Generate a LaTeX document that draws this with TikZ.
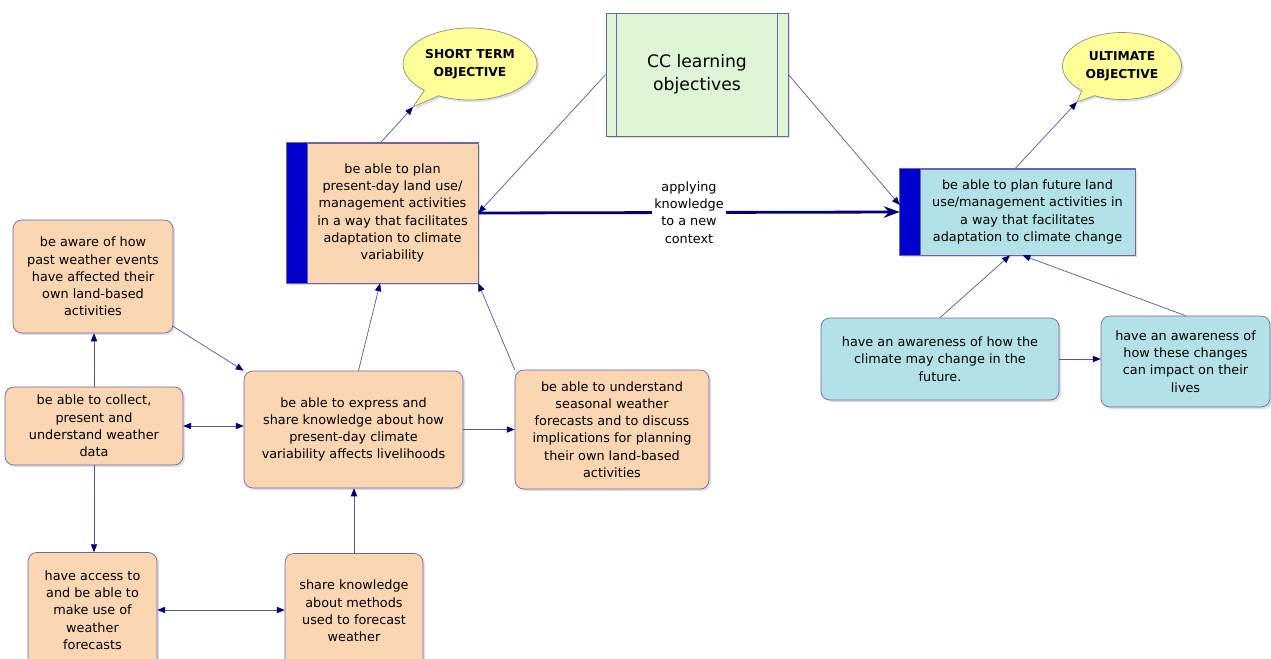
\documentclass[tikz,border=0pt]{standalone}
\usepackage{fontspec}
\setmainfont{DejaVu Sans}
\usetikzlibrary{arrows.meta,shapes.callouts,shadows}
\definecolor{peach}{RGB}{250,214,178}
\definecolor{skyfill}{RGB}{178,226,232}
\definecolor{callyellow}{RGB}{255,255,153}
\definecolor{ccgreen}{RGB}{222,245,214}
\definecolor{boxline}{RGB}{110,100,170}
\definecolor{barblue}{RGB}{0,0,205}
\definecolor{linkcol}{RGB}{85,85,165}
\definecolor{tipcol}{RGB}{0,0,120}
\tikzset{
  shadowed/.style={drop shadow={opacity=0.25, shadow xshift=1.2pt, shadow yshift=-1.2pt}},
  roundbox/.style={draw=boxline, rounded corners=5pt, align=center, inner sep=2pt, shadowed},
  peachbox/.style={roundbox, fill=peach},
  skybox/.style={roundbox, fill=skyfill},
  squarebox/.style={draw=boxline, align=center, inner sep=2pt, shadowed},
  callbox/.style={ellipse callout, draw=black!45, fill=callyellow, align=center,
    inner sep=1pt, font=\bfseries\fontsize{7}{10}\selectfont, shadowed},
  link/.style={draw=linkcol, -{Triangle[length=4.5pt, width=3.6pt, color=tipcol]}},
  duallink/.style={draw=linkcol, {Triangle[length=4.5pt, width=3.6pt, color=tipcol]}-{Triangle[length=4.5pt, width=3.6pt, color=tipcol]}},
  thicklink/.style={draw=tipcol, line width=1.6pt, -{Stealth[length=9pt, width=6.5pt]}}
}
\begin{document}
\begin{tikzpicture}[x=0.02cm, y=-0.02cm, font=\fontsize{7.3}{9.8}\selectfont]
  % Cadre
  \useasboundingbox (0,0) rectangle (1271,659);
  % Objectifs CC
  \node[squarebox, fill=ccgreen, minimum width=3.64cm, minimum height=2.46cm,
    font=\fontsize{9.8}{13}\selectfont] (cc) at (697,74.5) {CC learning\\objectives};
  \draw[boxline] ([xshift=0.22cm]cc.north west) -- ([xshift=0.22cm]cc.south west);
  \draw[boxline] ([xshift=-0.22cm]cc.north east) -- ([xshift=-0.22cm]cc.south east);
  % Objectif court terme
  \fill[barblue, shadowed] (287,143) rectangle (307,283);
  \node[squarebox, fill=peach, minimum width=3.42cm, minimum height=2.8cm] (plan) at (392.5,213)
    {be able to plan\\present-day land use/\\management activities\\in a way that facilitates\\adaptation to climate\\variability};
  \draw[boxline] ([xshift=-0.4cm]plan.north west) rectangle (plan.south east);
  % Objectif ultime
  \fill[barblue, shadowed] (900,169) rectangle (920,255);
  \node[squarebox, fill=skyfill, minimum width=4.3cm, minimum height=1.72cm] (future) at (1027.5,212)
    {be able to plan future land\\use/management activities in\\a way that facilitates\\adaptation to climate change};
  \draw[boxline] ([xshift=-0.4cm]future.north west) rectangle (future.south east);
  \coordinate (futl) at ([xshift=-0.4cm]future.west);
  % Bulles
  \coordinate (stp) at (413,107);
  \coordinate (ulp) at (1077,102);
  \node[callbox, minimum width=2.68cm, minimum height=1.44cm, callout absolute pointer={(stp)}]
    (short) at (470,64) {SHORT TERM\\OBJECTIVE};
  \node[callbox, minimum width=2.38cm, minimum height=1.34cm, callout absolute pointer={(ulp)}]
    (ultimate) at (1122,66) {ULTIMATE\\OBJECTIVE};
  % Boites de gauche
  \node[peachbox, minimum width=3.2cm, minimum height=2.26cm] (past) at (93,276.5)
    {be aware of how\\past weather events\\have affected their\\own land-based\\activities};
  \node[peachbox, minimum width=3.56cm, minimum height=1.56cm] (collect) at (94,426)
    {be able to collect,\\present and\\understand weather\\data};
  \node[peachbox, minimum width=4.38cm, minimum height=2.34cm] (express) at (353.5,429.5)
    {be able to express and\\share knowledge about how\\present-day climate\\variability affects livelihoods};
  \node[peachbox, minimum width=3.88cm, minimum height=2.38cm] (seasonal) at (612,429.5)
    {be able to understand\\seasonal weather\\forecasts and to discuss\\implications for planning\\their own land-based\\activities};
  \node[peachbox, minimum width=2.58cm, minimum height=2.3cm] (access) at (92.5,610)
    {have access to\\and be able to\\make use of\\weather\\forecasts};
  \node[peachbox, minimum width=2.76cm, minimum height=2.3cm] (share) at (354,611)
    {share knowledge\\about methods\\used to forecast\\weather};
  % Boites de droite
  \node[skybox, minimum width=4.76cm, minimum height=1.64cm] (climate) at (940,359)
    {have an awareness of how the\\climate may change in the\\future.};
  \node[skybox, minimum width=3.38cm, minimum height=1.82cm] (impact) at (1185.5,361.5)
    {have an awareness of\\how these changes\\can impact on their\\lives};
  % Liens
  \draw[link] ([xshift=-0.24cm]plan.north) -- (stp);
  \draw[link] ([xshift=-0.25cm]future.north) -- (ulp);
  \draw[link] (cc.west) -- (plan.east);
  \draw[link] (cc.east) -- ([yshift=0.14cm]futl);
  \draw[thicklink] (plan.east) -- (futl)
    node[pos=0.5, fill=white, align=center, inner sep=1pt] (apply) {applying\\knowledge\\to a new\\context};
  \draw[link] (climate.north) -- ([xshift=-0.35cm]future.south);
  \draw[link] (impact.north) -- ([xshift=-0.1cm]future.south);
  \draw[link] (climate.east) -- (climate.east -| impact.west);
  \draw[link] ([yshift=-1cm]past.east) -- (express.north west);
  \draw[link] (collect.north) -- (collect.north |- past.south);
  \draw[duallink] (collect.east) -- (collect.east -| express.west);
  \draw[link] (collect.south) -- (collect.south |- access.north);
  \draw[duallink] (access.east) -- (access.east -| share.west);
  \draw[link] (share.north) -- (share.north |- express.south);
  \draw[link] ([xshift=0.1cm]express.north) -- ([xshift=-0.25cm]plan.south);
  \draw[link] (express.east) -- (express.east -| seasonal.west);
  \draw[link] (seasonal.north west) -- (plan.south east);
\end{tikzpicture}
\end{document}
